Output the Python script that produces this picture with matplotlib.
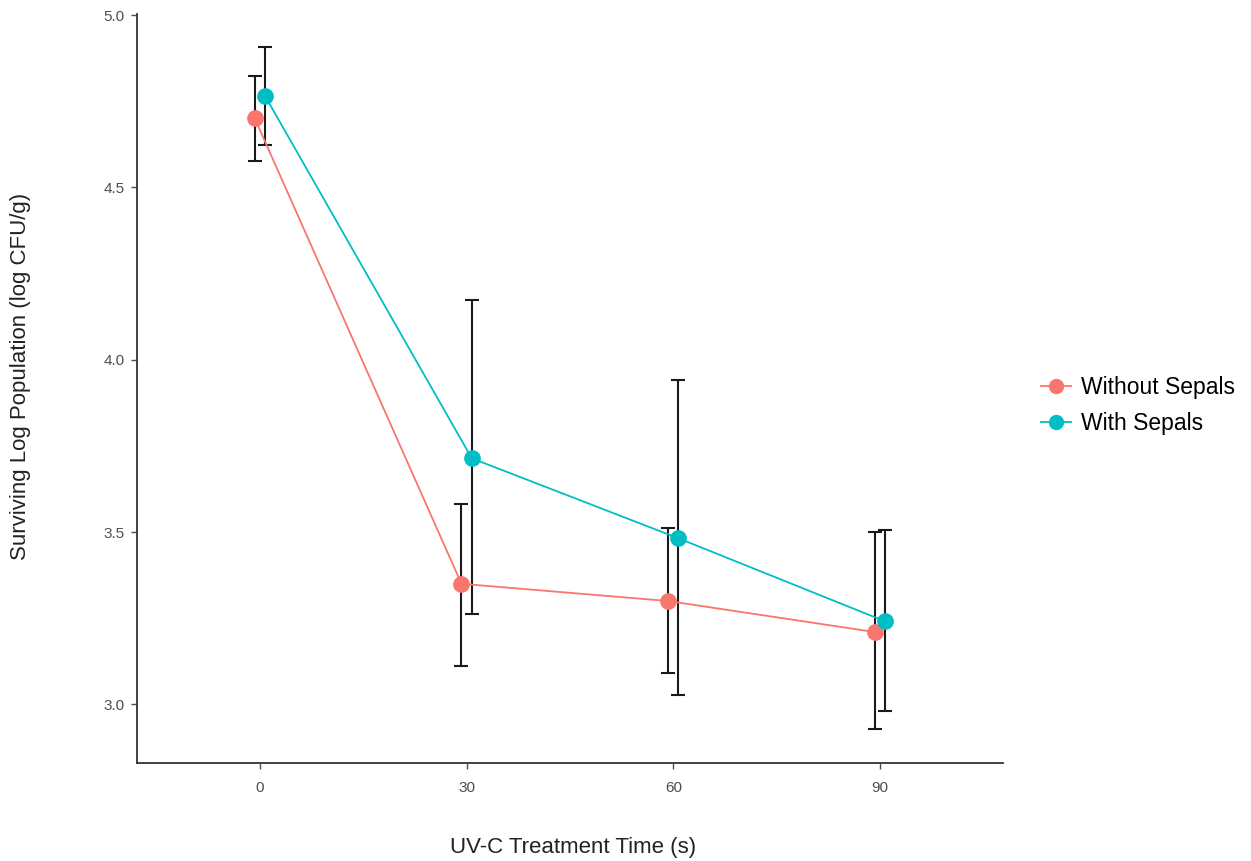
import matplotlib.pyplot as plt
from matplotlib.lines import Line2D

plt.rcParams['font.family'] = ['Liberation Sans', 'DejaVu Sans']

times = [0, 30, 60, 90]
groups = ['Without Sepals', 'With Sepals']
colors = ['#F8766D', '#00BFC4']

# mean log CFU/g and error bar limits per treatment time
without_mean = [4.70, 3.35, 3.30, 3.21]
without_lo = [4.576, 3.111, 3.091, 2.928]
without_hi = [4.823, 3.581, 3.511, 3.500]

with_mean = [4.765, 3.714, 3.482, 3.241]
with_lo = [4.623, 3.263, 3.027, 2.980]
with_hi = [4.907, 4.172, 3.941, 3.506]

dodge = 0.75

fig = plt.figure(figsize=(12.51, 8.61), dpi=100)
ax = fig.add_axes([0.1095, 0.1138, 0.6922, 0.8699])

series = [(without_mean, without_lo, without_hi, -dodge),
          (with_mean, with_lo, with_hi, dodge)]
for (m, lo, hi, off), col, lab in zip(series, colors, groups):
    xs = [t + off for t in times]
    yerr = [[a - b for a, b in zip(m, lo)], [b - a for a, b in zip(m, hi)]]
    ax.errorbar(xs, m, yerr=yerr, fmt='none', ecolor='#1a1a1a', elinewidth=1.5,
                capsize=5, capthick=1.5, zorder=2)
    ax.plot(xs, m, '-', color=col, lw=1.3, zorder=3)
    ax.plot(xs, m, 'o', color=col, ms=11, zorder=4, label=lab)

ax.set_xlim(-17.85, 107.85)
ax.set_ylim(2.83, 5.003)
ax.set_xticks(times)
ax.set_xticklabels([str(t) for t in times])
ax.set_yticks([3.0, 3.5, 4.0, 4.5, 5.0])
ax.set_yticklabels(['3.0', '3.5', '4.0', '4.5', '5.0'])
ax.tick_params(colors='#4d4d4d', labelsize=11, length=4, width=1)
ax.tick_params(axis='x', pad=9)
ax.tick_params(axis='y', pad=5)
for s in ['top', 'right']:
    ax.spines[s].set_visible(False)
for s in ['left', 'bottom']:
    ax.spines[s].set_color('#333333')
    ax.spines[s].set_linewidth(1.3)

fig.text(573 / 1251, 1 - 848 / 861, 'UV-C Treatment Time (s)', fontsize=16,
         color='#222222', ha='center', va='center')
fig.text(21 / 1251, 1 - 376 / 861, 'Surviving Log Population (log CFU/g)',
         fontsize=16, color='#222222', ha='center', va='center', rotation=90)

handles = [Line2D([0], [0], color=c, lw=1.3, marker='o', ms=10) for c in colors]
fig.legend(handles, groups, loc='center left', bbox_to_anchor=(0.8195, 0.529),
           frameon=False, fontsize=16.5, handlelength=1.3, labelspacing=0.6,
           handletextpad=0.45, borderpad=0.2)

fig.savefig('out.png', dpi=100, facecolor='white')
